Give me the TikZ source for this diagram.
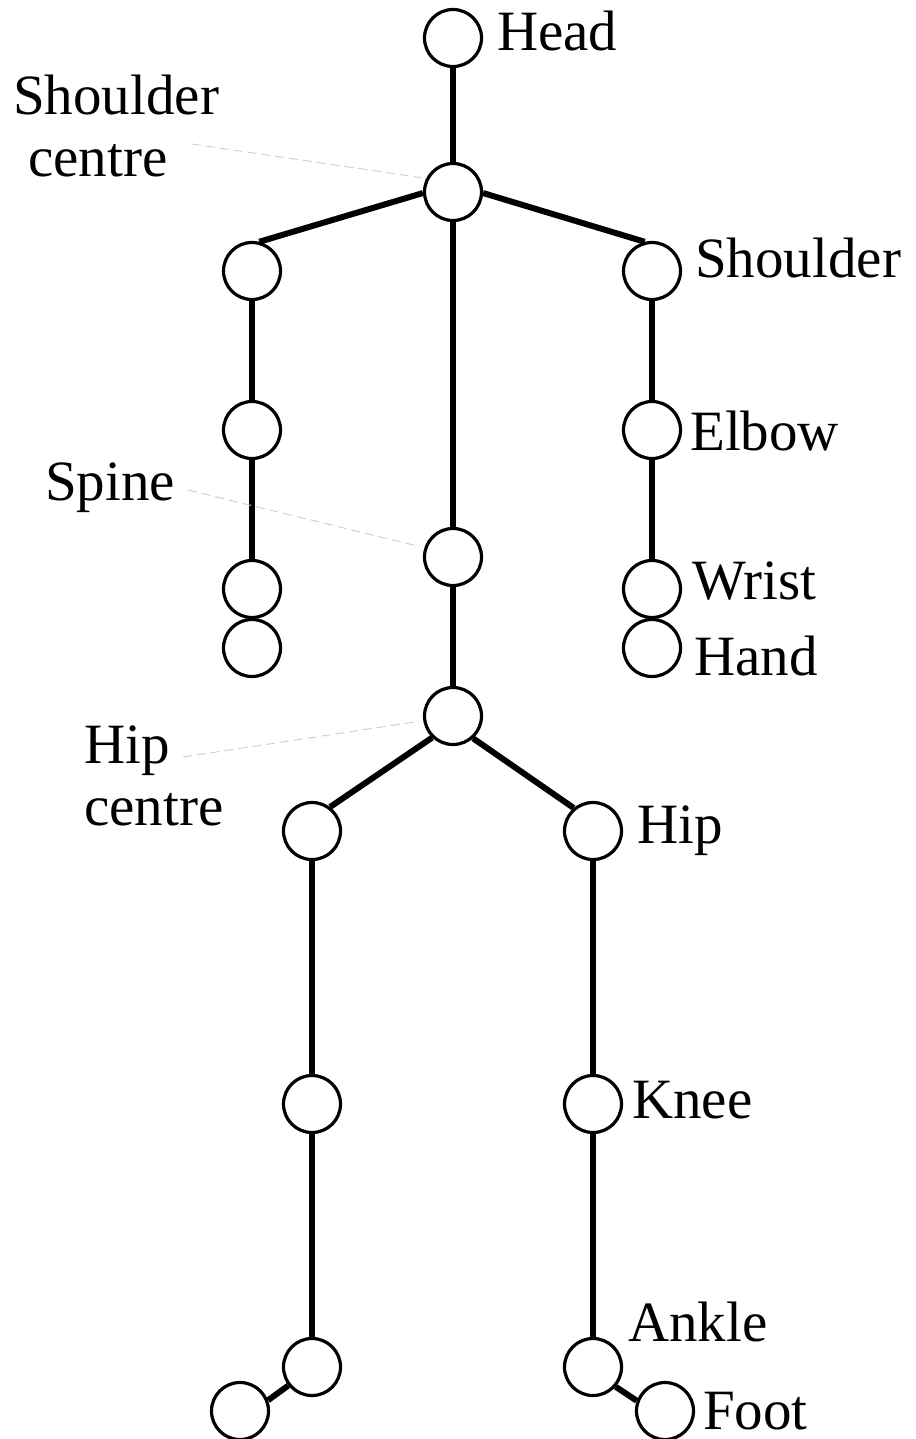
\documentclass[tikz,border=0pt]{standalone}
\usepackage{fontspec}
\setmainfont{Liberation Serif}
\usepackage{tikz}
\usetikzlibrary{positioning,calc}
\definecolor{leadgray}{RGB}{205,205,205}
\newcommand{\jfont}{\fontsize{57}{62}\selectfont}
\tikzset{
  joint/.style ={circle, draw=black, fill=white, line width=3.2pt,
                 minimum size=57pt, inner sep=0pt},
  bone/.style  ={line width=6pt, draw=black},
  jlabel/.style={anchor=base west, inner sep=0pt, font=\jfont, align=left},
  leader/.style={draw=leadgray, line width=0.9pt, dash pattern=on 9pt off 5pt, shorten >=5pt},
}
\begin{document}
\begin{tikzpicture}[x=1pt, y=-1pt]
\useasboundingbox (0,0) rectangle (915,1439);
% trunk
\node[joint] (head)  at (453,38)  {};
\node[joint] (shc)   at (453,192) {};
\node[joint] (spine) at (453,557) {};
\node[joint] (hipc)  at (453,716) {};
% arms
\node[joint] (lsho) at (252,271) {};
\node[joint] (lelb) at (252,430) {};
\node[joint] (lwri) at (252,589) {};
\node[joint] (lhnd) at (252,648) {};
\node[joint] (rsho) at (652,271) {};
\node[joint] (relb) at (652,430) {};
\node[joint] (rwri) at (652,589) {};
\node[joint] (rhnd) at (652,648) {};
% legs
\node[joint] (lhip) at (312,831)  {};
\node[joint] (lkne) at (312,1104) {};
\node[joint] (lank) at (312,1367) {};
\node[joint] (lft)  at (240,1411) {};
\node[joint] (rhip) at (593,831)  {};
\node[joint] (rkne) at (593,1104) {};
\node[joint] (rank) at (593,1367) {};
\node[joint] (rft)  at (665,1411) {};
% bones
\foreach \a/\b in {head/shc, shc/spine, spine/hipc,
                   lsho/lelb, lelb/lwri, rsho/relb, relb/rwri,
                   lhip/lkne, lkne/lank, rhip/rkne, rkne/rank}
  \draw[bone] (\a) -- (\b);
\draw[bone] (shc.182) -- (lsho.76);
\draw[bone] (shc.-2)  -- (rsho.104);
\draw[bone] (hipc.226) -- (lhip.53);
\draw[bone] (hipc.-48) -- (rhip.130);
\draw[bone] (lank.218) -- (lft.21);
\draw[bone] (rank.-41) -- (rft.160);
% labels
\node[jlabel] (headL) at (497,51)   {Head};
\node[jlabel] (rshoL) at (695,277)  {Shoulder};
\node[jlabel] (relbL) at (690,450)  {Elbow};
\node[jlabel] (rwriL) at (692,599)  {Wrist};
\node[jlabel] (rhndL) at (694,675)  {Hand};
\node[jlabel] (rhipL) at (637,843)  {Hip};
\node[jlabel] (rkneL) at (632,1118) {Knee};
\node[jlabel] (rankL) at (628,1341) {Ankle};
\node[jlabel] (rftL)  at (703,1429) {Foot};
\node[jlabel] (shcL)  at (13,177)   {Shoulder\\\hspace*{15pt}centre};
\node[jlabel] (spineL) at (45,500)  {Spine};
\node[jlabel] (hipcL) at (84,825)   {Hip\\centre};
% leader lines
\coordinate (shcT)   at (192,144);
\coordinate (spineT) at (188,490);
\coordinate (hipcT)  at (183,757);
\draw[leader] (shcT)   -- (shc.153);
\draw[leader] (spineT) -- (spine.162);
\draw[leader] (hipcT)  -- (hipc.189);
\end{tikzpicture}
\end{document}
